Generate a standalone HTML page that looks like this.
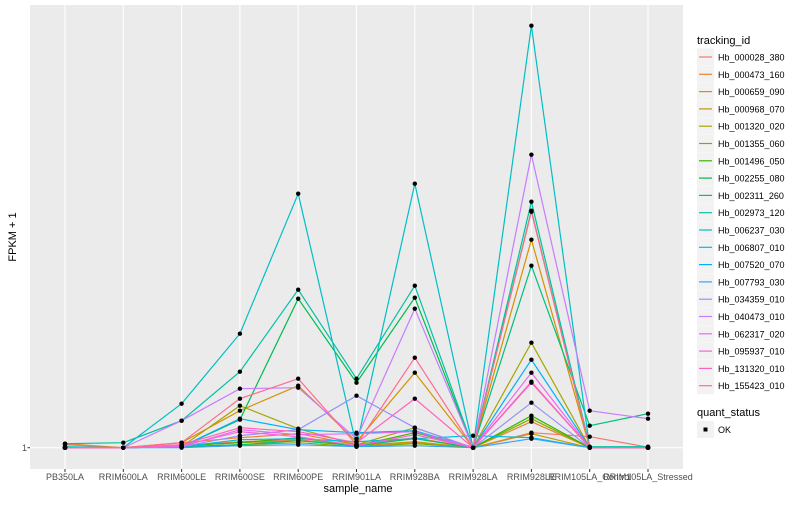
<!DOCTYPE html>
<html><head><meta charset="utf-8"><style>
body{margin:0;background:#fff;font-family:"Liberation Sans",sans-serif;}
svg text{font-family:"Liberation Sans",sans-serif;}
</style></head><body>
<svg id="chart" width="800" height="500" xmlns="http://www.w3.org/2000/svg">
<rect x="0" y="0" width="800" height="500" fill="#fff"/>
<rect x="30" y="5" width="653" height="464" fill="#EBEBEB"/>
<g id="grid"></g><g id="lines"></g><g id="points"></g><g id="xaxis"></g>
<text x="27" y="451" text-anchor="end" font-size="9" fill="#4d4d4d">1</text>
<line x1="27.5" y1="447.7" x2="30" y2="447.7" stroke="#333" stroke-width="1"/>
<text x="358" y="492" text-anchor="middle" font-size="11" fill="#000">sample_name</text>
<text transform="translate(16,237) rotate(-90)" text-anchor="middle" font-size="11" fill="#000">FPKM + 1</text>
<g id="legend"></g>
</svg>
<script>
const categories=["PB350LA","RRIM600LA","RRIM600LE","RRIM600SE","RRIM600PE","RRIM901LA","RRIM928BA","RRIM928LA","RRIM928LE","RRIM105LA_Control","RRIM105LA_Stressed"];
const seriesNames=["Hb_000028_380","Hb_000473_160","Hb_000659_090","Hb_000968_070","Hb_001320_020","Hb_001355_060","Hb_001496_050","Hb_002255_080","Hb_002311_260","Hb_002973_120","Hb_006237_030","Hb_006807_010","Hb_007520_070","Hb_007793_030","Hb_034359_010","Hb_040473_010","Hb_062317_020","Hb_095937_010","Hb_131320_010","Hb_155423_010"];
const s00=[1.3,1,1.2,1.6,1.8,1.2,1.5,1,2.5,2.1,1.05];
const s01=[1.4,1,1.5,2.0,2.4,1.3,2.0,1,3.6,1,1];
const s02=[1,1,1.5,4.7,7.2,1.6,8.5,1,21.8,1,1];
const s03=[1,1,1.2,1.5,1.7,1.2,1.6,1,2.4,1,1];
const s04=[1,1,1.1,5.2,2.9,1.3,3.0,1,11.5,1,1];
const s05=[1,1,1.1,1.3,1.5,1.1,1.4,1,3.9,1,1];
const s06=[1,1,1.2,1.5,2.0,1.2,2.5,1,4.2,1,1];
const s07=[1,1,1.1,3.8,15.9,7.5,16.0,1,24.7,1,1];
const s08=[1,1,1.1,1.3,1.7,1.2,1.9,1,19.2,3.2,4.4];
const s09=[1.4,1.5,3.7,8.6,16.8,7.9,17.2,1,25.6,1.1,1.1];
const s10=[1.1,1,5.4,12.4,26.4,1.2,27.4,1,43.2,1,1];
const s11=[1,1,1.1,1.8,1.9,1.6,1.9,2.2,2.0,1,1];
const s12=[1,1,1.1,3.9,2.8,2.5,2.7,1,9.8,1,1];
const s13=[1,1,1,1.2,1.3,1.1,1.2,1,1.9,1,1];
const s14=[1,1,1.1,2.2,2.8,6.2,3.0,1,5.5,1,1];
const s15=[1,1,3.7,6.9,7.0,1.9,14.9,1,30.3,4.7,3.9];
const s16=[1,1,1.1,2.8,2.3,2.4,2.6,1,8.5,1,1];
const s17=[1,1,1.2,2.6,2.1,1.2,2.3,1,7.5,1,1];
const s18=[1,1,1.3,3.0,2.6,1.5,5.9,1,7.6,1,1];
const s19=[1,1,1.5,5.9,7.9,1.3,10.0,1,24.6,1,1];
const seriesValues=[s00,s01,s02,s03,s04,s05,s06,s07,s08,s09,s10,s11,s12,s13,s14,s15,s16,s17,s18,s19];
const colors=["#F8766D","#EA8331","#D89000","#C09B00","#A3A500","#7CAE00","#39B600","#00BB4E","#00BF7D","#00C1A3","#00BFC4","#00BAE0","#00B0F6","#35A2FF","#9590FF","#C77CFF","#E76BF3","#FA62DB","#FF62BC","#FF6C91"];
const NS="http://www.w3.org/2000/svg";
function xScale(i){return 65+i*58.3;}
function yScale(v){return 447.7-(v-1)*10;}
function mk(tag,attrs,parent){const e=document.createElementNS(NS,tag);for(const k in attrs)e.setAttribute(k,attrs[k]);parent.appendChild(e);return e;}
const grid=document.getElementById('grid'),lines=document.getElementById('lines'),pts=document.getElementById('points'),xa=document.getElementById('xaxis'),lg=document.getElementById('legend');
let hl=mk('line',{x1:30,x2:683,y1:yScale(1),y2:yScale(1),stroke:'#fff','stroke-width':1.1},grid);


categories.forEach((c,i)=>{
  const g=mk('line',{x1:xScale(i),x2:xScale(i),y1:5,y2:469,stroke:'#fff','stroke-width':1.1},grid);
  
  
  const t=mk('line',{x1:xScale(i),x2:xScale(i),y1:469,y2:472,stroke:'#333'},xa);
  
  
  const l=mk('text',{x:xScale(i),y:480,'text-anchor':'middle','font-size':9,fill:'#4d4d4d'},xa);
  l.textContent=c;
  
  
});
seriesValues.forEach((vals,s)=>{
  const p=mk('polyline',{points:vals.map((v,i)=>xScale(i)+','+yScale(v)).join(' '),fill:'none',stroke:colors[s],'stroke-width':1.2},lines);
  
  
  vals.forEach((v,i)=>{
    const r=mk('circle',{cx:xScale(i),cy:yScale(v),r:2.2,fill:'#000'},pts);
    
    
  });
});
let tt=mk('text',{x:697,y:44,'font-size':11,fill:'#000'},lg);
tt.textContent='tracking_id';


seriesNames.forEach((n,s)=>{
  const cy=57+s*17.3;
  const g=mk('g',{},lg);
  
  
  mk('rect',{x:697,y:cy-8.5,width:17,height:17,fill:'#F2F2F2'},g);
  mk('line',{x1:699,x2:712,y1:cy,y2:cy,stroke:colors[s],'stroke-width':1.2},g);
  const t=mk('text',{x:718,y:cy+3.5,'font-size':9,fill:'#000'},g);
  t.textContent=n;
});
let qt=mk('text',{x:697,y:416,'font-size':11,fill:'#000'},lg);
qt.textContent='quant_status';


let qg=mk('g',{},lg);


mk('rect',{x:697,y:421,width:17,height:17,fill:'#F2F2F2'},qg);
mk('rect',{x:703.5,y:427.5,width:4,height:4,fill:'#000'},qg);
let qtx=mk('text',{x:718,y:433,'font-size':9,fill:'#000'},qg);
qtx.textContent='OK';
</script>
</body></html>
